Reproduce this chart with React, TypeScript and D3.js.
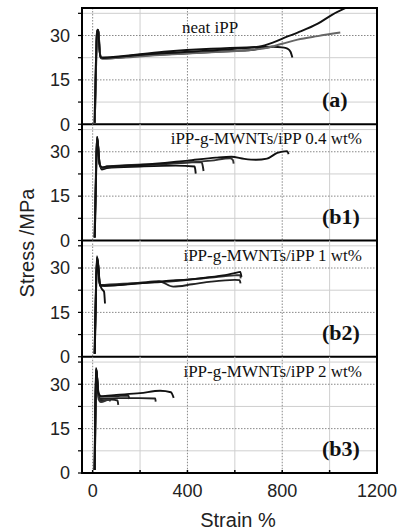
import React from 'react';
import * as d3 from 'd3';

type Pt = [number, number];

// x ticks and y ticks
const strainTicks = [0, 400, 800, 1200];
const strainMinor = [200, 600, 1000];
const stressTicks = [0, 15, 30];
const stressMinor = [7.5, 22.5, 37.5];

const panelTitles = ['neat iPP', 'iPP-g-MWNTs/iPP 0.4 wt%', 'iPP-g-MWNTs/iPP 1 wt%', 'iPP-g-MWNTs/iPP 2 wt%'];
const panelLabels = ['(a)', '(b1)', '(b2)', '(b3)'];

// (a) neat iPP
const neat1: Pt[] = [[8, 0.5], [12, 15], [16, 28], [20, 32], [24, 31.5], [28, 26], [34, 22.5], [45, 22.4], [200, 23.5], [400, 24.5], [600, 25.5], [700, 26.2], [760, 27.6], [820, 29.6], [865, 31], [950, 34], [1010, 37], [1075, 39.6]];
const neat2: Pt[] = [[8, 0.5], [12, 15], [17, 29], [21, 31.5], [25, 31], [29, 25.5], [35, 22.3], [45, 22.3], [300, 23.5], [500, 24.3], [650, 25], [720, 25.6], [800, 27.2], [865, 28.6], [950, 29.8], [1045, 31]];
const neat3: Pt[] = [[9, 0.5], [13, 16], [18, 31], [22, 32], [26, 30], [30, 24.5], [36, 22.6], [45, 22.6], [300, 24.5], [500, 25.5], [650, 26], [760, 26.2], [800, 26], [822, 25.6], [835, 24.5], [843, 22.6]];
const neat4: Pt[] = [[9, 0.5], [14, 18], [19, 31], [23, 31.8], [27, 28], [32, 23], [40, 22.2], [200, 23.2], [400, 24], [600, 24.8], [680, 25.2], [720, 25.8], [760, 26.2]];

// (b1) 0.4 wt%
const b1c1: Pt[] = [[8, 1], [13, 18], [18, 35], [22, 33], [28, 27], [38, 24], [60, 24.5], [200, 25], [350, 25.3], [430, 25], [433, 24], [435, 22.6]];
const b1c2: Pt[] = [[8, 1], [13, 20], [17, 34], [21, 33.5], [27, 26.5], [38, 24.5], [60, 24.8], [300, 25.8], [460, 26.5], [465, 25], [468, 23.5]];
const b1c3: Pt[] = [[9, 1], [14, 22], [19, 34.5], [23, 32], [29, 26], [40, 24.5], [60, 25], [300, 26], [500, 27], [580, 27.8], [592, 27.2], [595, 26]];
const b1c4: Pt[] = [[9, 1], [14, 20], [19, 35], [24, 31], [30, 25.5], [40, 24.8], [60, 25], [200, 25.5], [400, 27], [520, 28], [585, 28.3], [640, 27.6], [690, 27.3], [736, 27.7], [779, 29.6], [821, 30.2], [827, 29.2]];

// (b2) 1 wt%
const b2c1: Pt[] = [[8, 1], [14, 22], [19, 33.5], [24, 31], [30, 24], [50, 24], [200, 24.8], [300, 25.5], [450, 26.5], [550, 27.5], [600, 28.3], [623, 28.7], [628, 27]];
const b2c2: Pt[] = [[8, 1], [13, 20], [18, 34], [23, 31], [30, 24.5], [50, 24], [200, 25], [280, 25.5], [340, 23.7], [420, 24.5], [500, 25.4], [600, 26], [620, 25.9], [624, 24.8]];
const b2c3: Pt[] = [[9, 1], [14, 21], [19, 33], [24, 30], [31, 24.2], [50, 24.3], [300, 25.3], [500, 26.8], [600, 27.5], [622, 27.6], [625, 26.5]];
const b2c4: Pt[] = [[9, 1], [13, 20], [18, 33.5], [23, 31], [30, 25], [38, 23], [48, 22], [52, 18]];

// (b3) 2 wt%
const b3c1: Pt[] = [[8, 1], [11, 20], [14, 35.5], [18, 33], [24, 27], [35, 26], [100, 26.4], [200, 27], [285, 27.8], [330, 27.3], [342, 25.4]];
const b3c2: Pt[] = [[8, 1], [11, 22], [15, 35], [19, 32], [25, 26], [35, 25], [100, 25.3], [200, 25.3], [264, 25.2], [266, 24.1]];
const b3c3: Pt[] = [[9, 1], [12, 22], [16, 34.5], [20, 31], [26, 25.5], [35, 24.5], [80, 24.8], [105, 24.5], [108, 23]];
const b3c4: Pt[] = [[9, 1], [12, 20], [15, 35], [19, 31], [25, 25], [35, 24], [70, 24.8], [75, 24.2]];
const b3c5: Pt[] = [[8, 1], [12, 21], [15, 35.3], [19, 32], [25, 27], [35, 25.8], [100, 26], [150, 26.2], [155, 25]];

const panelCurves: { pts: Pt[]; color: string }[][] = [
  [{ pts: neat4, color: '#111' }, { pts: neat3, color: '#111' }, { pts: neat2, color: '#666' }, { pts: neat1, color: '#111' }],
  [{ pts: b1c1, color: '#111' }, { pts: b1c2, color: '#222' }, { pts: b1c3, color: '#333' }, { pts: b1c4, color: '#111' }],
  [{ pts: b2c3, color: '#333' }, { pts: b2c2, color: '#222' }, { pts: b2c1, color: '#111' }, { pts: b2c4, color: '#111' }],
  [{ pts: b3c2, color: '#222' }, { pts: b3c3, color: '#222' }, { pts: b3c4, color: '#333' }, { pts: b3c5, color: '#222' }, { pts: b3c1, color: '#111' }],
];

const W = 400;
const H = 530;
const left = 82;
const right = 377;
const top = 8;
const panelH = 116.25;

const sans = 'Liberation Sans, Arial, sans-serif';
const serif = 'Liberation Serif, Times New Roman, serif';

export default function App() {
  const x = d3.scaleLinear().domain([-45, 1200]).range([left, right]);
  const bottom = top + panelH * 4;

  return (
    <svg width={W} height={H} style={{ position: 'absolute', left: 0, top: 0, background: '#fff' }}>
      <defs>
        {panelCurves.map((_, i) => (
          <clipPath id={`clip${i}`} key={i}>
            <rect x={left} y={top + i * panelH} width={right - left} height={panelH} />
          </clipPath>
        ))}
      </defs>
      {panelCurves.map((curves, i) => {
        const y0 = top + i * panelH;
        const y = d3.scaleLinear().domain([0, 39.3]).range([y0 + panelH, y0]);
        const line = d3.line<Pt>().x(d => x(d[0])).y(d => y(d[1])).curve(d3.curveMonotoneX);
        return (
          <g key={i}>
            {/* minor grid */}
            {strainMinor.map(v => (
              <line key={'vm' + v} x1={x(v)} x2={x(v)} y1={y0} y2={y0 + panelH} stroke="#cfcfcf" strokeWidth={1} />
            ))}
            {stressMinor.map(v => (
              <line key={'hm' + v} x1={left} x2={right} y1={y(v)} y2={y(v)} stroke="#cfcfcf" strokeWidth={1} />
            ))}
            {/* major grid, dotted */}
            {strainTicks.slice(0, 3).map(v => (
              <line key={'v' + v} x1={x(v)} x2={x(v)} y1={y0} y2={y0 + panelH} stroke="#888" strokeWidth={1} strokeDasharray="1.5,1.5" />
            ))}
            {stressTicks.slice(1).map(v => (
              <line key={'h' + v} x1={left} x2={right} y1={y(v)} y2={y(v)} stroke="#888" strokeWidth={1} strokeDasharray="1.5,1.5" />
            ))}
            {/* y ticks */}
            {stressTicks.concat(stressMinor).map(v => (
              <line key={'t' + v} x1={left - 4} x2={left} y1={y(v)} y2={y(v)} stroke="#000" strokeWidth={1.2} />
            ))}
            {stressTicks.map(v => (
              <text key={'l' + v} x={70} y={y(v)} dy="0.35em" textAnchor="end" fontFamily={sans} fontSize={18} fill="#222">
                {v}
              </text>
            ))}
            {/* curves */}
            <g clipPath={`url(#clip${i})`}>
              {curves.map((c, j) => (
                <path key={j} d={line(c.pts) || ''} fill="none" stroke={c.color} strokeWidth={1.9} strokeLinejoin="round" />
              ))}
            </g>
            {i === 0 ? (
              <text x={182} y={y0 + 25} fontFamily={serif} fontSize={17} fill="#111">{panelTitles[i]}</text>
            ) : (
              <text x={362} y={y0 + 20} textAnchor="end" fontFamily={serif} fontSize={17} fill="#111">{panelTitles[i]}</text>
            )}
            <text x={322} y={y0 + panelH - 17} fontFamily={serif} fontWeight="bold" fontSize={22} fill="#111">
              {panelLabels[i]}
            </text>
            <line x1={left} x2={right} y1={y0 + panelH} y2={y0 + panelH} stroke="#000" strokeWidth={2} />
          </g>
        );
      })}
      {/* x ticks */}
      {strainTicks.concat(strainMinor).map(v => (
        <line key={'xt' + v} x1={x(v)} x2={x(v)} y1={bottom - 3} y2={bottom} stroke="#000" strokeWidth={1.5} />
      ))}
      {strainTicks.map(v => (
        <text key={'xl' + v} x={x(v)} y={497} textAnchor="middle" fontFamily={sans} fontSize={18} fill="#222">
          {v}
        </text>
      ))}
      <rect x={left} y={top} width={right - left} height={bottom - top} fill="none" stroke="#000" strokeWidth={2} />
      <text x={238} y={527} textAnchor="middle" fontFamily={sans} fontSize={20} fill="#222">Strain %</text>
      <text transform="translate(34,243) rotate(-90)" textAnchor="middle" fontFamily={sans} fontSize={20} fill="#222">
        Stress /MPa
      </text>
    </svg>
  );
}
